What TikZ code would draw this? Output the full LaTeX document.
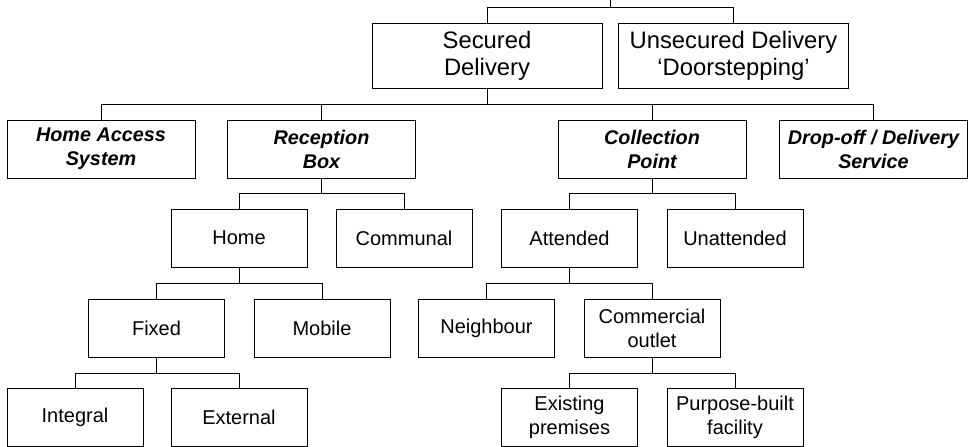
\documentclass[tikz,border=0pt]{standalone}
\usepackage{fontspec}
\setmainfont{Liberation Sans}
\usepackage{tikz}

\begin{document}
\begin{tikzpicture}[x=1pt, y=-1pt,
        topbox/.style={draw, line width=1pt, minimum width=230pt,
                    minimum height=65pt, align=center, inner sep=1pt,
                    font=\fontsize{23.8}{27}\selectfont},
        catbox/.style={draw, line width=1pt, minimum width=188pt,
                    minimum height=58pt, align=center, inner sep=1pt,
                    font=\fontsize{19.8}{24}\selectfont\bfseries\itshape},
        subbox/.style={draw, line width=1pt, minimum width=136pt,
                    minimum height=58pt, align=center, inner sep=1pt,
                    font=\fontsize{20}{24}\selectfont},
        link/.style={line width=1pt}
    ]
        \useasboundingbox (0,0) rectangle (970,447);
        \coordinate (root) at (610,0);
        \node[topbox] (sd)     at (487,  55.5) {Secured\\Delivery};
        \node[topbox] (ud)     at (733.5,55.5) {Unsecured Delivery\\`Doorstepping'};
        \node[catbox] (has)    at (101,  149)  {Home Access\\System};
        \node[catbox] (rb)     at (321.5,149)  {Reception\\Box};
        \node[catbox] (cp)     at (652,  149)  {Collection\\Point};
        \node[catbox] (dds)    at (873.5,149)  {Drop-off / Delivery\\Service};
        \node[subbox] (home)   at (239,  238)  {Home};
        \node[subbox] (comm)   at (404,  238)  {Communal};
        \node[subbox] (att)    at (569.5,238)  {Attended};
        \node[subbox] (unatt)  at (735,  238)  {Unattended};
        \node[subbox] (fixed)  at (156.5,328)  {Fixed};
        \node[subbox] (mob)    at (322,  328)  {Mobile};
        \node[subbox] (nb)     at (486.5,328)  {Neighbour};
        \node[subbox] (co)     at (652,  328)  {Commercial\\outlet};
        \node[subbox] (integ)  at (75,   417)  {Integral};
        \node[subbox] (ext)    at (239,  417)  {External};
        \node[subbox] (exist)  at (569.5,417)  {Existing\\premises};
        \node[subbox] (pbf)    at (735,  417)  {Purpose-built\\facility};
        \draw[link] (root) -- ++(0,-7pt) -| (sd.north);
        \draw[link] (root) -- ++(0,-7pt) -| (ud.north);
        \foreach \c in {has, rb, cp, dds}
            \draw[link] (sd.south) -- ++(0,-16pt) -| (\c.north);
        \foreach \c in {home, comm}
            \draw[link] (rb.south) -- ++(0,-15pt) -| (\c.north);
        \foreach \c in {att, unatt}
            \draw[link] (cp.south) -- ++(0,-15pt) -| (\c.north);
        \foreach \c in {fixed, mob}
            \draw[link] (home.south) -- ++(0,-16pt) -| (\c.north);
        \foreach \c in {nb, co}
            \draw[link] (att.south) -- ++(0,-16pt) -| (\c.north);
        \foreach \c in {integ, ext}
            \draw[link] (fixed.south) -- ++(0,-16pt) -| (\c.north);
        \foreach \c in {exist, pbf}
            \draw[link] (co.south) -- ++(0,-16pt) -| (\c.north);
    \end{tikzpicture}
\end{document}
